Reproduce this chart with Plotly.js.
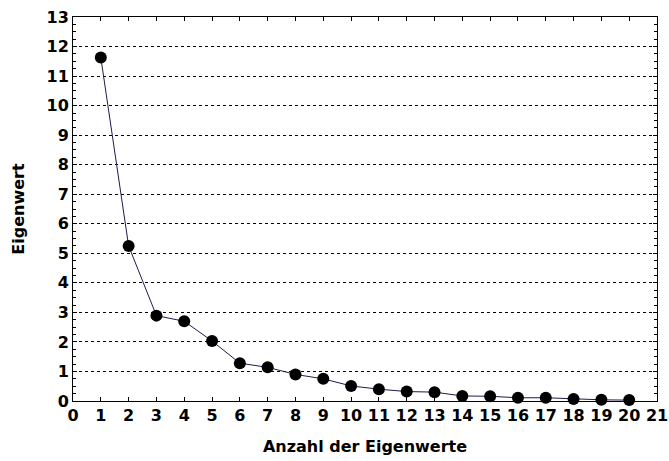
<!DOCTYPE html>
<html>
<head>
<meta charset="utf-8">
<script src="https://cdn.plot.ly/plotly-3.0.1.min.js"></script>
<style>html,body{margin:0;padding:0;background:#fff}#chart{width:669px;height:461px}</style>
</head>
<body>
<div id="chart"></div>
<script>
// Scree plot: eigenvalue per component number
const componentNumbers = [1,2,3,4,5,6,7,8,9,10,11,12,13,14,15,16,17,18,19,20];
const eigenvalues = [11.63,5.25,2.89,2.70,2.03,1.28,1.14,0.90,0.75,0.51,0.40,0.32,0.30,0.17,0.16,0.11,0.11,0.07,0.04,0.03];
const xTickValues = [0,1,2,3,4,5,6,7,8,9,10,11,12,13,14,15,16,17,18,19,20,21];
const yTickValues = [0,1,2,3,4,5,6,7,8,9,10,11,12,13];

const family = 'DejaVu Sans, Verdana, sans-serif';
const tickFont = {family: family, size: 16, color: '#000'};
const titleFont = {family: family, size: 16, color: '#000'};
const bold = v => '<b>' + v + '</b>';

Plotly.newPlot('chart', [{
  x: componentNumbers,
  y: eigenvalues,
  type: 'scatter',
  mode: 'lines+markers',
  line: {color: '#1c1c4e', width: 1},
  marker: {color: '#000', size: 12},
  cliponaxis: false,
  showlegend: false
}], {
  width: 669, height: 461,
  margin: {l: 73, r: 12, t: 17, b: 60},
  paper_bgcolor: '#fff', plot_bgcolor: '#fff',
  font: {family: family, color: '#000', size: 16},
  xaxis: {
    range: [0, 21], tickvals: xTickValues, ticktext: xTickValues.map(bold),
    showgrid: false, zeroline: false,
    showline: true, linecolor: '#000', linewidth: 1, mirror: 'ticks',
    ticks: 'inside', ticklen: 4, tickcolor: '#000',
    tickfont: tickFont,
    title: {text: bold('Anzahl der Eigenwerte'), font: titleFont, standoff: 16}
  },
  yaxis: {
    range: [0, 13], tickvals: yTickValues, ticktext: yTickValues.map(bold),
    showgrid: true, gridcolor: '#000', griddash: 'dot', gridwidth: 1,
    zeroline: false,
    showline: true, linecolor: '#000', linewidth: 1, mirror: 'ticks',
    ticks: 'inside', ticklen: 4, tickcolor: '#000',
    minor: {dtick: 0.25, tick0: 0, ticks: 'inside', ticklen: 3, tickcolor: '#000', showgrid: false},
    tickfont: tickFont,
    title: {text: bold('Eigenwert'), font: titleFont, standoff: 17}
  }
}, {staticPlot: true});
</script>
</body>
</html>
